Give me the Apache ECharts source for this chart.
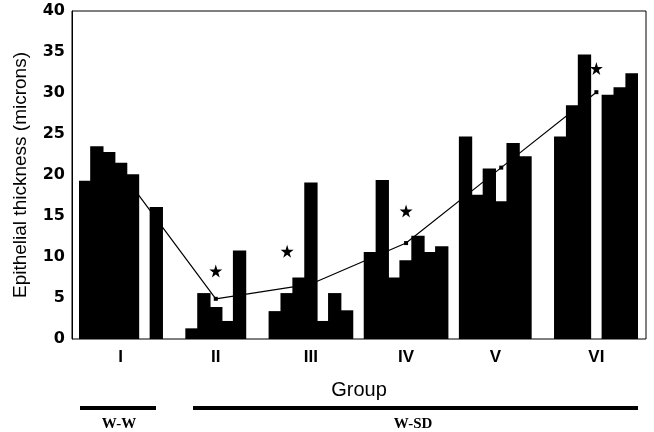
<!DOCTYPE html>
<html>
<head>
<meta charset="utf-8">
<script src="https://cdn.jsdelivr.net/npm/echarts@6/dist/echarts.min.js"></script>
<style>html,body{margin:0;padding:0;background:#fff;}#c{width:654px;height:432px;}</style>
</head>
<body>
<div id="c"></div>
<script>
// ---- data ----
const groupLabels = ['I', 'II', 'III', 'IV', 'V', 'VI'];
const groupI   = [19.3, 23.5, 22.8, 21.5, 20.1, null, 16.1];
const groupII  = [1.3, 5.6, 3.9, 2.2, 10.8];
const groupIII = [3.4, 5.6, 7.5, 19.1, 2.2, 5.6, 3.5];
const groupIV  = [10.6, 19.4, 7.5, 9.6, 12.6, 10.6, 11.3];
const groupV   = [24.7, 17.6, 20.8, 16.8, 23.9, 22.3];
const groupVI  = [24.7, 28.5, 34.7, null, 29.8, 30.7, 32.4];
const groupMeans = [20.5, 4.9, 6.7, 11.7, 20.9, 30.1];
const starValues = [null, 8.3, 10.7, 15.6, null, 33.0];
const yTicks = [0, 5, 10, 15, 20, 25, 30, 35, 40];
const yTitle = 'Epithelial thickness (microns)';
const xTitle = 'Group';
const bracketLabels = ['W-W', 'W-SD'];

// ---- layout (slot arrangement) ----
const groups = [groupI, groupII, groupIII, groupIV, groupV, groupVI];
const gapsBefore = [0, 2, 2, 1, 1, 2];
const meanSlot = [3, 2, 3, 3, 3, 3];
const labelSlot = [3, 2, 3, 3, 2, 3];
const labelShift = [0, 0, 0, 0, 12, 0];
const starSlot = [0, 2, 1, 3, 0, 3];

const barData = [];
const starts = [];
groups.forEach((g, gi) => {
  for (let k = 0; k < gapsBefore[gi]; k++) barData.push(null);
  starts.push(barData.length);
  g.forEach(v => barData.push(v));
});
const nSlots = barData.length;
const slots = barData.map((_, i) => 's' + i);
const lineData = new Array(nSlots).fill(null);
const starData = new Array(nSlots).fill(null);
const labelAt = {};
groups.forEach((g, gi) => {
  lineData[starts[gi] + meanSlot[gi]] = groupMeans[gi];
  if (starValues[gi] != null) starData[starts[gi] + starSlot[gi]] = starValues[gi];
  labelAt[starts[gi] + labelSlot[gi]] = gi;
});

const chart = echarts.init(document.getElementById('c'), null, {renderer: 'canvas'});
const TOP = 11, BOTTOM = 93;
chart.setOption({
  animation: false,
  backgroundColor: '#fff',
  grid: [
    {left: 72, right: 8, top: TOP, bottom: BOTTOM, show: true, borderColor: '#000', borderWidth: 1, backgroundColor: 'transparent'},
    {left: 79, right: 16, top: TOP, bottom: BOTTOM}
  ],
  xAxis: [
    {gridIndex: 0, type: 'category', data: [''], show: false},
    {gridIndex: 1, type: 'category', data: slots,
     axisLine: {show: false}, axisTick: {show: false},
     axisLabel: {
       interval: 0, margin: 10,
       formatter: (v, i) => (labelAt[i] != null ? '{r' + labelAt[i] + '|' + groupLabels[labelAt[i]] + '}' : ''),
       rich: Object.fromEntries(groupLabels.map((l, gi) => ['r' + gi, {
         fontFamily: 'Liberation Sans', fontWeight: 'bold', fontSize: 17, color: '#000',
         padding: [0, 0, 0, labelShift[gi]]
       }]))
     }}
  ],
  yAxis: [
    {gridIndex: 0, type: 'value', min: yTicks[0], max: yTicks[yTicks.length - 1], interval: yTicks[1] - yTicks[0],
     axisLine: {show: true, lineStyle: {color: '#000', width: 1}},
     axisTick: {show: false}, splitLine: {show: false},
     axisLabel: {color: '#000', fontFamily: 'DejaVu Sans', fontWeight: 'bold', fontSize: 16, margin: 7},
     name: yTitle, nameLocation: 'middle', nameGap: 42,
     nameTextStyle: {color: '#000', fontFamily: 'Liberation Sans', fontSize: 19}},
    {gridIndex: 1, type: 'value', min: yTicks[0], max: yTicks[yTicks.length - 1], show: false, splitLine: {show: false}}
  ],
  series: [
    {type: 'bar', xAxisIndex: 1, yAxisIndex: 1, data: barData, barWidth: '112%', barCategoryGap: '0%',
     itemStyle: {color: '#000'}, z: 2},
    {type: 'line', xAxisIndex: 1, yAxisIndex: 1, data: lineData, connectNulls: true,
     symbol: 'rect', symbolSize: 4, showSymbol: true,
     lineStyle: {color: '#000', width: 1.2}, itemStyle: {color: '#000'}, z: 3},
    {type: 'scatter', xAxisIndex: 1, yAxisIndex: 1, data: starData,
     symbol: 'path://M50,0 L61,35 L98,35 L68,57 L79,91 L50,70 L21,91 L32,57 L2,35 L39,35 Z',
     symbolSize: 13, itemStyle: {color: '#000', opacity: 1}, z: 4}
  ],
  graphic: [
    {type: 'text', x: 359, y: 380, style: {text: xTitle, align: 'center', fontFamily: 'Liberation Sans', fontSize: 20, fill: '#000'}},
    {type: 'rect', shape: {x: 80, y: 406, width: 76, height: 4}, style: {fill: '#000'}},
    {type: 'rect', shape: {x: 193, y: 406, width: 445, height: 4}, style: {fill: '#000'}},
    {type: 'text', x: 119, y: 417, style: {text: bracketLabels[0], align: 'center', fontFamily: 'Liberation Serif', fontWeight: 'bold', fontSize: 15, fill: '#000'}},
    {type: 'text', x: 413, y: 417, style: {text: bracketLabels[1], align: 'center', fontFamily: 'Liberation Serif', fontWeight: 'bold', fontSize: 15, fill: '#000'}}
  ]
});
</script>
</body>
</html>
